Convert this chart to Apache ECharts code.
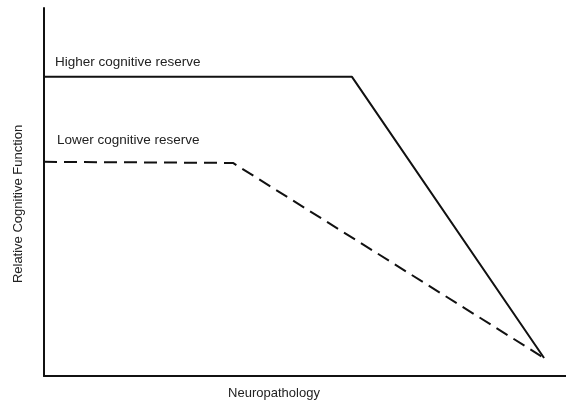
<!DOCTYPE html>
<html><head><meta charset="utf-8">
<script src="https://cdn.jsdelivr.net/npm/echarts@6/dist/echarts.min.js"></script>
<style>html,body{margin:0;padding:0;background:#fff}#c{width:566px;height:400px}</style>
</head><body><div id="c"></div>
<script>
const higherX = [0, 59, 95.8];
const higherY = [81.3, 81.3, 4.9];
const lowerX = [0, 36.2, 95.8];
const lowerY = [58.2, 57.9, 4.9];
const seriesNames = ['Higher cognitive reserve', 'Lower cognitive reserve'];
const xName = 'Neuropathology';
const yName = 'Relative Cognitive Function';

const chart = echarts.init(document.getElementById('c'));
const font = 'Liberation Sans, Arial, Helvetica, sans-serif';
chart.setOption({
  animation: false,
  grid: {left: 44, right: 0, top: 8, bottom: 24, containLabel: false, outerBoundsMode: 'none'},
  xAxis: {type: 'value', min: 0, max: 100, name: xName, nameLocation: 'middle', nameGap: 11,
    nameTextStyle: {color: '#222', fontSize: 13, fontFamily: font, verticalAlign: 'top', padding: [0, 62, 0, 0]},
    axisLine: {lineStyle: {color: '#111', width: 2}}, axisTick: {show: false}, axisLabel: {show: false}, splitLine: {show: false}},
  yAxis: {type: 'value', min: 0, max: 100, name: yName, nameLocation: 'middle', nameGap: 19,
    nameTextStyle: {color: '#222', fontSize: 13, fontFamily: font, padding: [0, 24, 0, 0]},
    axisLine: {show: true, lineStyle: {color: '#111', width: 2}}, axisTick: {show: false}, axisLabel: {show: false}, splitLine: {show: false}},
  series: [
    {name: seriesNames[0], type: 'line', symbol: 'none', data: higherX.map((x, i) => [x, higherY[i]]),
      lineStyle: {color: '#111', width: 2}},
    {name: seriesNames[1], type: 'line', symbol: 'none', data: lowerX.map((x, i) => [x, lowerY[i]]),
      lineStyle: {color: '#111', width: 2, type: [13, 7]}}
  ],
  graphic: [
    {type: 'text', x: 55, y: 62, style: {text: seriesNames[0], fill: '#222', font: '13.5px ' + font, verticalAlign: 'middle'}},
    {type: 'text', x: 57, y: 140, style: {text: seriesNames[1], fill: '#222', font: '13.5px ' + font, verticalAlign: 'middle'}}
  ]
});
</script></body></html>
